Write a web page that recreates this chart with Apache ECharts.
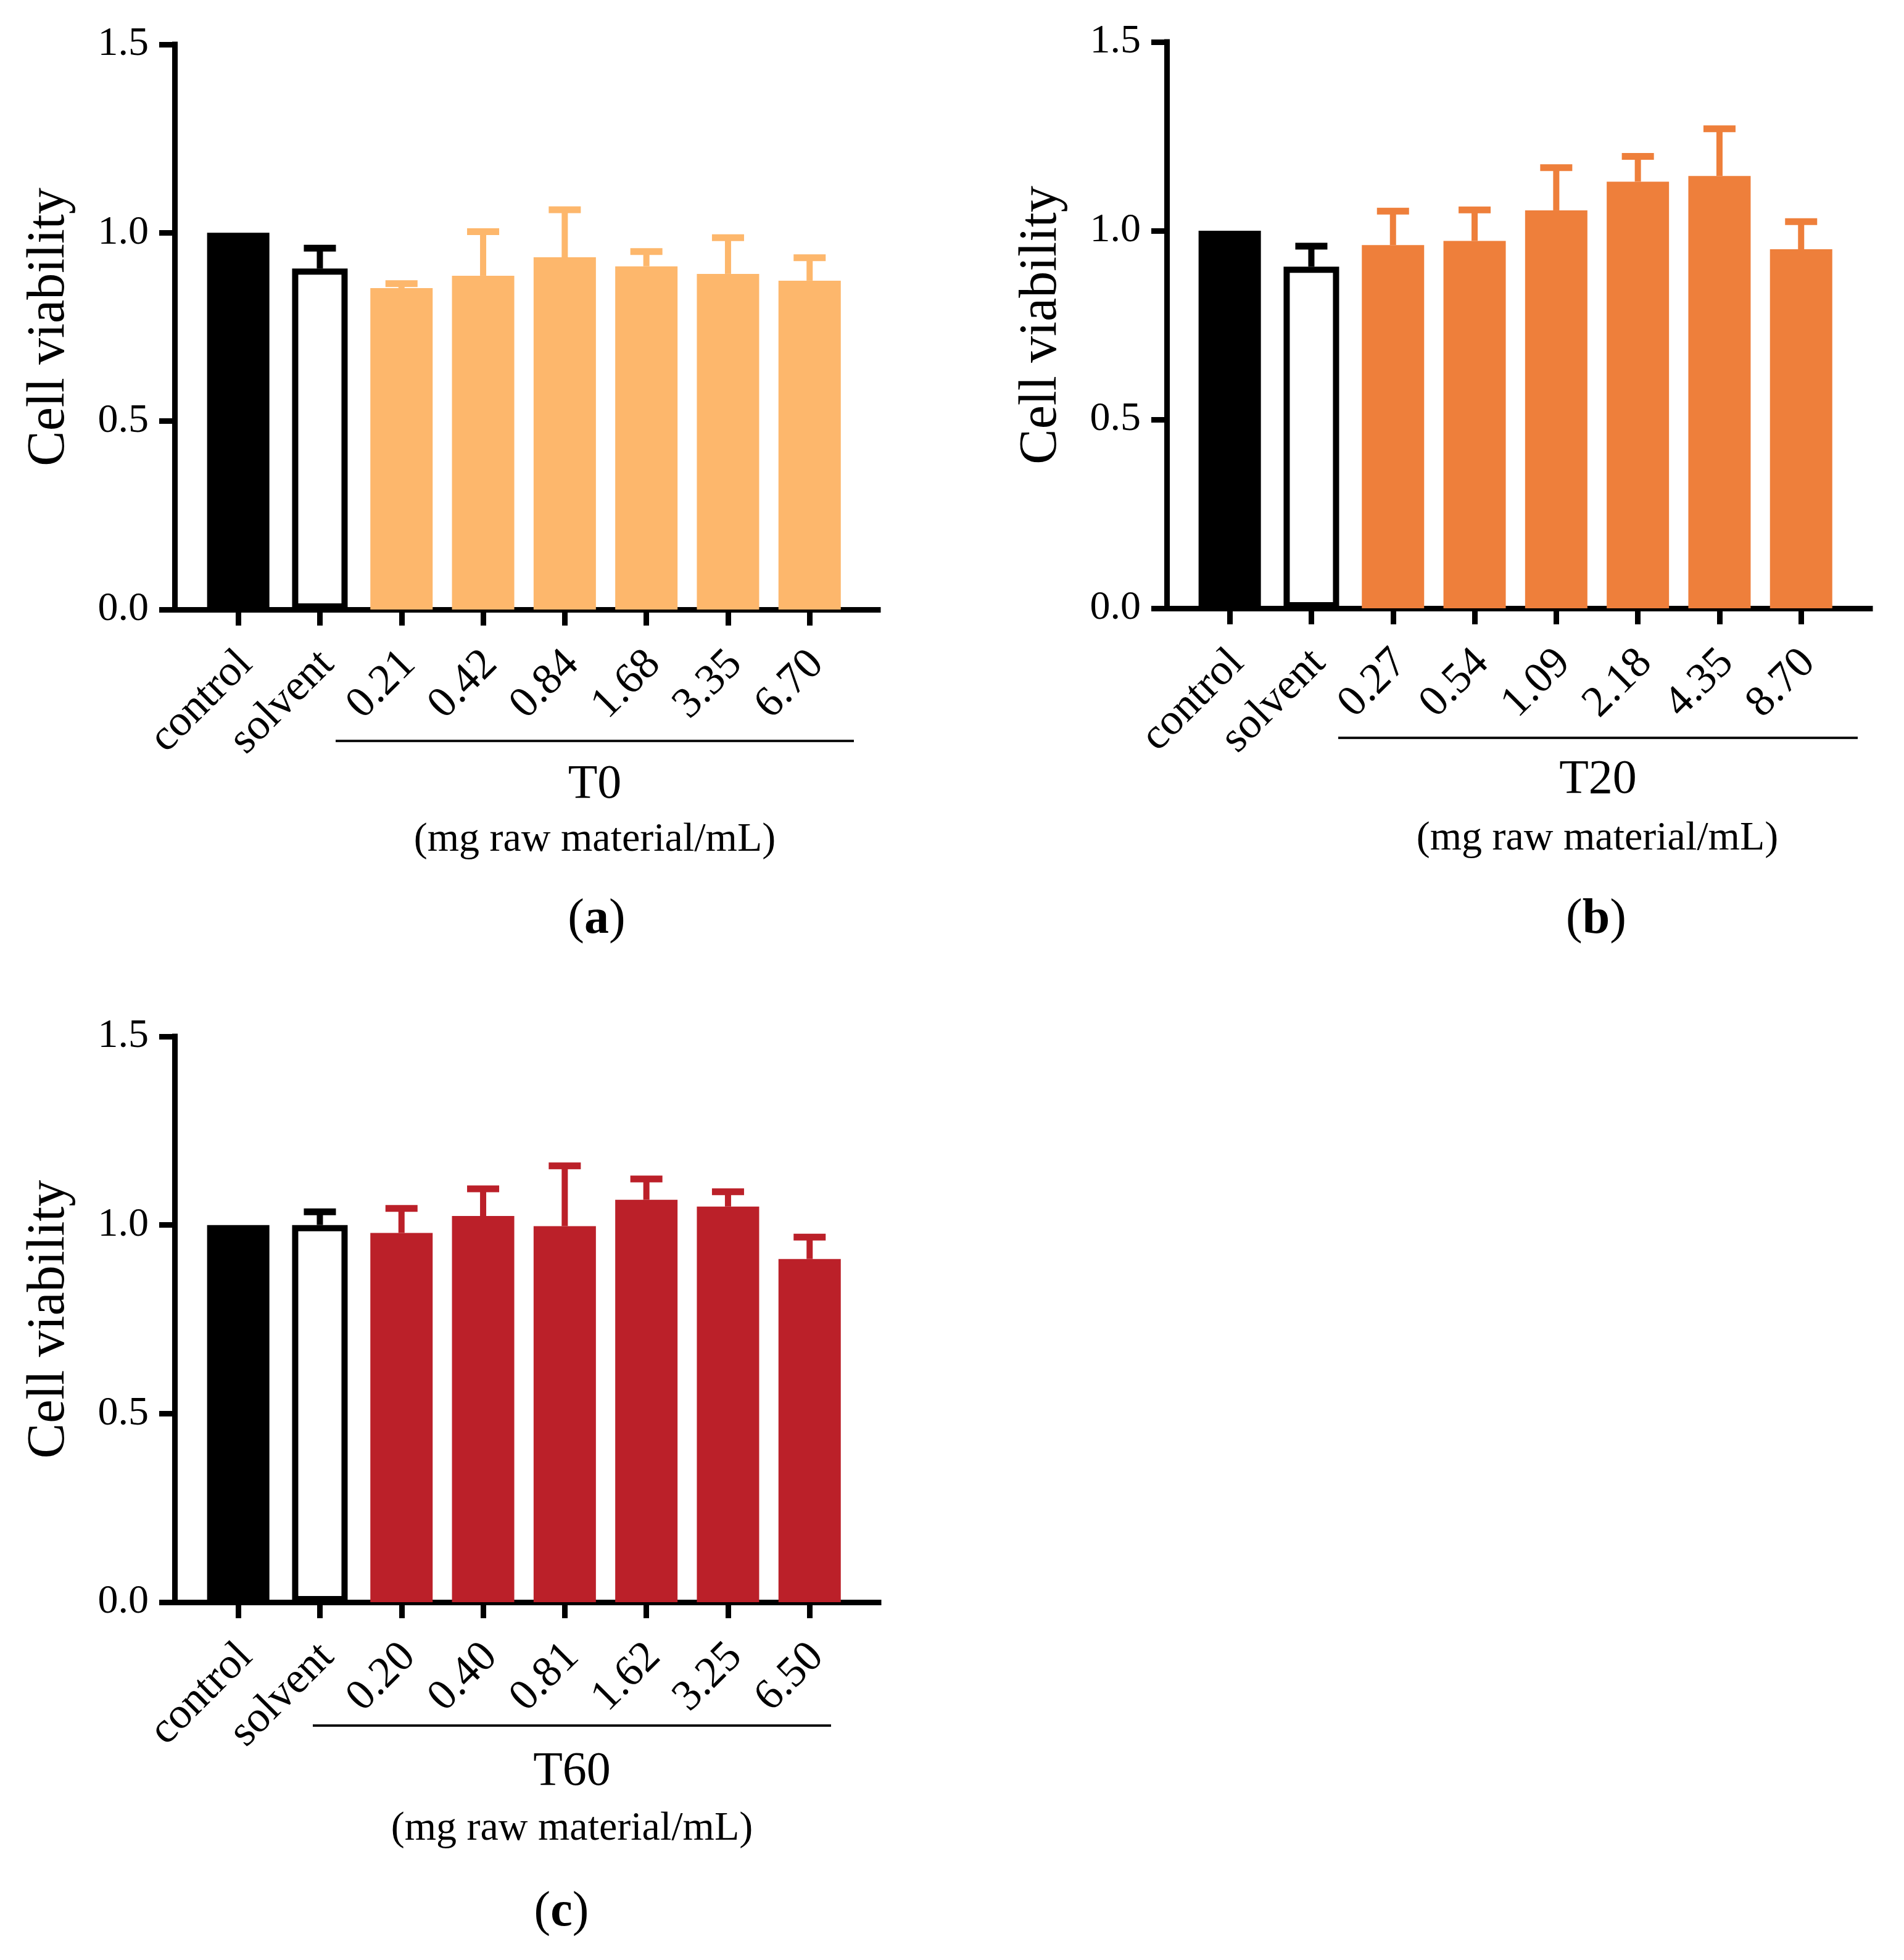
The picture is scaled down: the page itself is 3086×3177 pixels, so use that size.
<!DOCTYPE html>
<html lang="en">
<head>
<meta charset="UTF-8">
<title>Cell viability</title>
<style>
  html, body { margin: 0; padding: 0; background: #fff; }
  #main { width: 3086px; height: 3177px; }
</style>
<script src="https://cdn.jsdelivr.net/npm/echarts@6/dist/echarts.min.js"></script>
</head>
<body>
<div id="main"></div>
<script>
// ---- data ----
var catsT0  = ['control', 'solvent', '0.21', '0.42', '0.84', '1.68', '3.35', '6.70'];
var meanT0  = [1.00, 0.905, 0.853, 0.886, 0.935, 0.911, 0.891, 0.873];
var sdT0    = [0, 0.054, 0.012, 0.117, 0.126, 0.039, 0.096, 0.061];

var catsT20 = ['control', 'solvent', '0.27', '0.54', '1.09', '2.18', '4.35', '8.70'];
var meanT20 = [1.00, 0.905, 0.962, 0.973, 1.054, 1.130, 1.145, 0.951];
var sdT20   = [0, 0.054, 0.090, 0.082, 0.113, 0.067, 0.125, 0.073];

var catsT60 = ['control', 'solvent', '0.20', '0.40', '0.81', '1.62', '3.25', '6.50'];
var meanT60 = [1.00, 1.00, 0.979, 1.024, 0.997, 1.067, 1.049, 0.910];
var sdT60   = [0, 0.035, 0.065, 0.072, 0.160, 0.055, 0.039, 0.058];

var yTicks = [0, 0.5, 1.0, 1.5];
var groupNames = ['T0', 'T20', 'T60'];
var panelTags = ['a', 'b', 'c'];
var unitText = '(mg raw material/mL)';
var yName = 'Cell viability';

// ---- styling / layout ----
var FONT = "'Liberation Serif', 'Times New Roman', serif";
var colors = ['#FDB76C', '#EE7F3B', '#BB2029'];
var bandW = 132.3;
var labelShift = 12;   // rotated labels sit a little right of their tick

var panels = [
  { cats: catsT0, mean: meanT0, sd: sdT0, color: colors[0],
    x0: 283, top: 72, w: 1140, h: 916, barLeft: 320,
    bracket: [544, 1384, 1201], groupY: 1273, unitY: 1362, unitX: 964, tagX: 967, tagY: 1491 },
  { cats: catsT20, mean: meanT20, sd: sdT20, color: colors[1],
    x0: 1891, top: 68, w: 1140, h: 918, barLeft: 1927,
    bracket: [2169, 3011, 1196], groupY: 1265, unitY: 1360, unitX: 2589, tagX: 2587, tagY: 1491 },
  { cats: catsT60, mean: meanT60, sd: sdT60, color: colors[2],
    x0: 283, top: 1680, w: 1141, h: 917, barLeft: 320,
    bracket: [507, 1347, 2797], groupY: 2873, unitY: 2965, unitX: 927, tagX: 910, tagY: 3100 }
];

var grids = [], xAxes = [], yAxes = [], series = [], graphics = [];
var axisLine = { show: true, lineStyle: { color: '#000', width: 9, cap: 'square' } };

panels.forEach(function (p, k) {
  var g = grids.length;
  var xa = xAxes.length;
  var ya = yAxes.length;
  var barColor = function (i) { return i < 2 ? '#000' : p.color; };

  // frame grid, bar grid, label grid
  grids.push({ left: p.x0, top: p.top, width: p.w, height: p.h, outerBoundsMode: 'none' });
  grids.push({ left: p.barLeft, top: p.top, width: bandW * 8, height: p.h, outerBoundsMode: 'none' });
  grids.push({ left: p.barLeft + labelShift, top: p.top, width: bandW * 8, height: p.h, outerBoundsMode: 'none' });

  xAxes.push({ gridIndex: g, type: 'value', min: 0, max: 1, axisLine: axisLine,
    axisTick: { show: false }, axisLabel: { show: false }, splitLine: { show: false } });
  xAxes.push({ gridIndex: g + 1, type: 'category', data: p.cats,
    axisLine: { show: false },
    axisTick: { show: true, interval: 0, alignWithLabel: true, length: 26,
      lineStyle: { color: '#000', width: 9 } },
    axisLabel: { show: false }, splitLine: { show: false } });
  xAxes.push({ gridIndex: g + 1, type: 'category', data: p.cats, show: false });
  xAxes.push({ gridIndex: g + 2, type: 'category', data: p.cats,
    axisLine: { show: false }, axisTick: { show: false }, splitLine: { show: false },
    axisLabel: { show: true, interval: 0, rotate: 45, margin: 78,
      fontSize: 71, fontFamily: FONT, color: '#000' } });

  yAxes.push({ gridIndex: g, type: 'value', min: yTicks[0], max: yTicks[yTicks.length - 1],
    interval: yTicks[1] - yTicks[0],
    name: yName, nameLocation: 'middle', nameGap: 160, nameRotate: 90,
    nameTextStyle: { fontSize: 86, fontFamily: FONT, color: '#000' },
    axisLine: axisLine,
    axisTick: { show: true, length: 25, lineStyle: { color: '#000', width: 9 } },
    axisLabel: { margin: 42, fontSize: 66, fontFamily: FONT, color: '#000',
      formatter: function (v) { return v.toFixed(1); } },
    splitLine: { show: false } });
  yAxes.push({ gridIndex: g + 1, type: 'value', min: 0, max: 1.5, show: false });
  yAxes.push({ gridIndex: g + 2, type: 'value', min: 0, max: 1.5, show: false });

  // filled bars
  series.push({ type: 'bar', xAxisIndex: xa + 1, yAxisIndex: ya + 1, barWidth: 101,
    silent: true, animation: false,
    data: p.mean.map(function (v, i) {
      return i === 1 ? '-' : { value: v, itemStyle: { color: barColor(i) } };
    }) });
  // open solvent bar
  series.push({ type: 'bar', xAxisIndex: xa + 2, yAxisIndex: ya + 1, barWidth: 90,
    silent: true, animation: false,
    itemStyle: { color: '#fff', borderColor: '#000', borderWidth: 10 },
    data: p.mean.map(function (v, i) { return i === 1 ? v : '-'; }) });
  // upper error bars (mean + SD)
  series.push({ type: 'custom', xAxisIndex: xa + 1, yAxisIndex: ya + 1, z: 5,
    silent: true, animation: false,
    data: p.mean.map(function (v, i) { return [i, v, p.sd[i]]; }),
    renderItem: function (params, api) {
      var i = api.value(0), m = api.value(1), s = api.value(2);
      if (!s) return;
      var base = api.coord([i, m]);
      var end = api.coord([i, m + s]);
      var c = barColor(i);
      return { type: 'group', children: [
        { type: 'line', shape: { x1: base[0], y1: base[1], x2: end[0], y2: end[1] },
          style: { stroke: c, lineWidth: 10 } },
        { type: 'line', shape: { x1: end[0] - 26, y1: end[1], x2: end[0] + 26, y2: end[1] },
          style: { stroke: c, lineWidth: 11 } }
      ] };
    } });

  // group bracket and captions
  graphics.push({ type: 'line', silent: true,
    shape: { x1: p.bracket[0], y1: p.bracket[2], x2: p.bracket[1], y2: p.bracket[2] },
    style: { stroke: '#111', lineWidth: 4 } });
  graphics.push({ type: 'text', x: (p.bracket[0] + p.bracket[1]) / 2, y: p.groupY,
    style: { text: groupNames[k], fontSize: 78, fontFamily: FONT, fill: '#000',
      align: 'center', verticalAlign: 'middle' } });
  graphics.push({ type: 'text', x: p.unitX, y: p.unitY,
    style: { text: unitText, fontSize: 66, fontFamily: FONT, fill: '#000',
      align: 'center', verticalAlign: 'middle' } });
  graphics.push({ type: 'text', x: p.tagX, y: p.tagY,
    style: { text: '({b|' + panelTags[k] + '})', fontSize: 80, fontFamily: FONT, fill: '#000',
      align: 'center', verticalAlign: 'middle',
      rich: { b: { fontSize: 80, fontFamily: FONT, fontWeight: 'bold', fill: '#000' } } } });
});

var chart = echarts.init(document.getElementById('main'), null, { renderer: 'canvas' });
chart.setOption({
  backgroundColor: '#fff',
  animation: false,
  grid: grids,
  xAxis: xAxes,
  yAxis: yAxes,
  series: series,
  graphic: graphics
});
</script>
</body>
</html>
